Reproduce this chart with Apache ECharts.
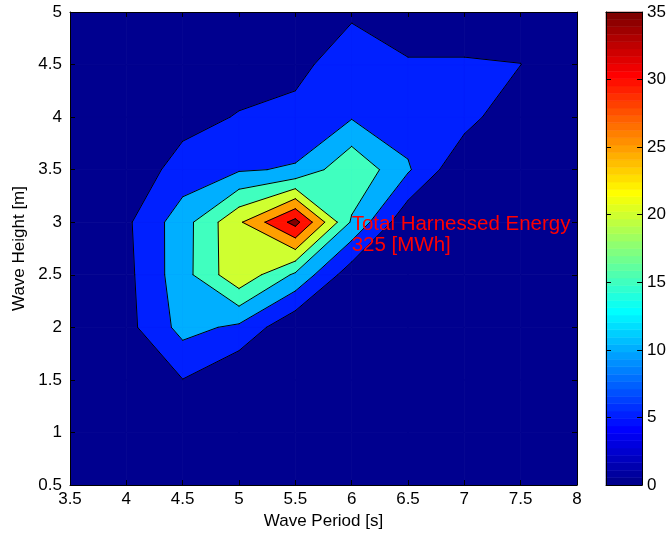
<!DOCTYPE html>
<html>
<head>
<meta charset="utf-8">
<script src="https://cdn.jsdelivr.net/npm/echarts@6/dist/echarts.min.js"></script>
<style>html,body{margin:0;padding:0;background:#fff;}#chart{width:669px;height:539px;}</style>
</head>
<body>
<div id="chart"></div>
<script>
// ---- data ----
const periods = [3.5, 4, 4.5, 5, 5.5, 6, 6.5, 7, 7.5, 8];          // Wave Period [s]
const heights = [0.5, 1, 1.5, 2, 2.5, 3, 3.5, 4, 4.5, 5];          // Wave Height [m]
// harnessed energy per sea state, one array per wave height (columns follow periods)
const energyH0_5 = [0, 0, 0,    0,     0,     0,    0,    0,    0,    0];
const energyH1_0 = [0, 0, 0,    0,     0,     0,    0,    0,    0,    0];
const energyH1_5 = [0, 0, 4.9,  0,     0,     0,    0,    0,    0,    0];
const energyH2_0 = [0, 3.33, 11.67, 9, 0.8,   0,    0,    0,    0,    0];
const energyH2_5 = [0, 3.6, 13,  23.9,  14.1,  2,    0,    0,    0,    0];
const energyH3_0 = [0, 4.1, 12.8, 24.25, 36.75, 14.3, 1,    0,    0,    0];
const energyH3_5 = [0, 1.7, 7,   9.5,   10.5,  19.3, 10.6, 0.6,  0,    0];
const energyH4_0 = [0, 0,   3.3, 5.32,  6.5,   9.6,  7.6,  7.07, 0.6,  0];
const energyH4_5 = [0, 0,   0,   2.65,  3.5,   8,    5.33, 5.33, 5.05, 0.5];
const energyH5_0 = [0, 0,   0,   0,     1.5,   4.2,  3,    3,    3,    1];
const contourLevels = [0, 5, 10, 15, 20, 25, 30, 35];
const colorbarRange = [0, 35];
const annotationLines = ['Total Harnessed Energy', '325 [MWh]'];
const annotationAt = [6, 3];

const grid = [energyH0_5, energyH1_0, energyH1_5, energyH2_0, energyH2_5,
              energyH3_0, energyH3_5, energyH4_0, energyH4_5, energyH5_0];

// ---- jet(64) colormap ----
function jet64() {
  const m = [];
  for (let n = 1; n <= 64; n++) {
    let r, g, b;
    if (n <= 8) { r = 0; g = 0; b = 0.5 + 0.0625 * n; }
    else if (n <= 24) { r = 0; g = 0.0625 * (n - 8); b = 1; }
    else if (n <= 40) { r = 0.0625 * (n - 24); g = 1; b = 1 - 0.0625 * (n - 24); }
    else if (n <= 56) { r = 1; g = 1 - 0.0625 * (n - 40); b = 0; }
    else { r = 1 - 0.0625 * (n - 56); g = 0; b = 0; }
    m.push('rgb(' + Math.round(r * 255) + ',' + Math.round(g * 255) + ',' + Math.round(b * 255) + ')');
  }
  return m;
}
const JET = jet64();
function levelColor(L) {
  const k = Math.min(63, Math.floor((L - colorbarRange[0]) / (colorbarRange[1] - colorbarRange[0]) * 64));
  return JET[Math.max(0, k)];
}

// ---- marching squares ----
const fillPolys = [];
const contourSegs = [];
function corner(i, j) { return { x: periods[i], y: heights[j], v: grid[j][i] }; }
function cross(a, b, L) {
  const t = (L - a.v) / (b.v - a.v);
  return [a.x + t * (b.x - a.x), a.y + t * (b.y - a.y)];
}
contourLevels.forEach(L => {
  const color = levelColor(L);
  for (let j = 0; j < heights.length - 1; j++) {
    for (let i = 0; i < periods.length - 1; i++) {
      const c = [corner(i, j), corner(i + 1, j), corner(i + 1, j + 1), corner(i, j + 1)];
      const hi = c.map(p => p.v >= L);
      const cnt = hi.filter(Boolean).length;
      if (cnt === 0) continue;
      const center = (c[0].v + c[1].v + c[2].v + c[3].v) / 4;
      const saddle = cnt === 2 && hi[0] === hi[2] && hi[1] === hi[3];
      const edge = k => cross(c[k % 4], c[(k + 1) % 4], L);
      if (saddle && center < L) {
        for (let k = 0; k < 4; k++) if (hi[k]) {
          fillPolys.push({ pts: [edge(k + 3), [c[k].x, c[k].y], edge(k)], color });
        }
      } else {
        const pts = [];
        for (let k = 0; k < 4; k++) {
          if (hi[k]) pts.push([c[k].x, c[k].y]);
          if (hi[k] !== hi[(k + 1) % 4]) pts.push(edge(k));
        }
        fillPolys.push({ pts, color });
      }
      if (L > contourLevels[0] && cnt < 4) {
        if (saddle) {
          const wantHigh = center < L;
          for (let k = 0; k < 4; k++) if (hi[k] === wantHigh) contourSegs.push([edge(k + 3), edge(k)]);
        } else {
          const cs = [];
          for (let k = 0; k < 4; k++) if (hi[k] !== hi[(k + 1) % 4]) cs.push(edge(k));
          if (cs.length === 2) contourSegs.push(cs);
        }
      }
    }
  }
});

// colorbar cells
const cbCells = JET.map((col, k) => ({
  lo: colorbarRange[0] + k * (colorbarRange[1] - colorbarRange[0]) / 64,
  hi: colorbarRange[0] + (k + 1) * (colorbarRange[1] - colorbarRange[0]) / 64,
  color: col
}));

const FONT = 'Liberation Sans, Arial, Helvetica, sans-serif';
const chart = echarts.init(document.getElementById('chart'), null, { renderer: 'canvas' });
const axisCommon = {
  type: 'value', z: 10,
  axisLine: { show: true, onZero: false, lineStyle: { color: '#000', width: 1 } },
  axisTick: { show: true, inside: true, length: 5, lineStyle: { color: '#000', width: 1 } },
  splitLine: { show: false },
  axisLabel: { color: '#000', fontFamily: FONT, fontSize: 17 }
};
chart.setOption({
  animation: false,
  backgroundColor: '#fff',
  grid: [
    { left: 70, top: 12, width: 507, height: 473 },
    { left: 606, top: 12, width: 38, height: 473 }
  ],
  xAxis: [
    Object.assign({}, axisCommon, { gridIndex: 0, position: 'bottom', min: 3.5, max: 8, interval: 0.5,
      axisLabel: Object.assign({}, axisCommon.axisLabel, { margin: 6 }),
      name: 'Wave Period [s]', nameLocation: 'middle', nameGap: 27,
      nameTextStyle: { color: '#000', fontFamily: FONT, fontSize: 17 } }),
    Object.assign({}, axisCommon, { gridIndex: 0, position: 'top', min: 3.5, max: 8, interval: 0.5,
      axisLabel: { show: false } }),
    Object.assign({}, axisCommon, { gridIndex: 1, position: 'bottom', min: 0, max: 1,
      axisTick: { show: false }, axisLabel: { show: false } }),
    Object.assign({}, axisCommon, { gridIndex: 1, position: 'top', min: 0, max: 1,
      axisTick: { show: false }, axisLabel: { show: false } })
  ],
  yAxis: [
    Object.assign({}, axisCommon, { gridIndex: 0, position: 'left', min: 0.5, max: 5, interval: 0.5,
      name: 'Wave Height [m]', nameLocation: 'middle', nameGap: 42, nameRotate: 90,
      nameTextStyle: { color: '#000', fontFamily: FONT, fontSize: 17 } }),
    Object.assign({}, axisCommon, { gridIndex: 0, position: 'right', min: 0.5, max: 5, interval: 0.5,
      axisLabel: { show: false } }),
    Object.assign({}, axisCommon, { gridIndex: 1, position: 'left', min: 0, max: 35, interval: 5,
      axisLabel: { show: false } }),
    Object.assign({}, axisCommon, { gridIndex: 1, position: 'right', min: 0, max: 35, interval: 5,
      axisLabel: Object.assign({}, axisCommon.axisLabel, { margin: 5 }) })
  ],
  series: [
    {
      type: 'custom', xAxisIndex: 0, yAxisIndex: 0, silent: true, z: 1, clip: true,
      data: fillPolys.map(p => [p.pts[0][0], p.pts[0][1]]),
      renderItem: (params, api) => {
        const p = fillPolys[params.dataIndex];
        return { type: 'polygon', shape: { points: p.pts.map(q => api.coord(q)) },
          style: { fill: p.color, stroke: p.color, lineWidth: 0.8 } };
      }
    },
    {
      type: 'custom', xAxisIndex: 0, yAxisIndex: 0, silent: true, z: 2, clip: true,
      data: contourSegs.map(s => [s[0][0], s[0][1]]),
      renderItem: (params, api) => {
        const s = contourSegs[params.dataIndex];
        return { type: 'line', shape: { x1: api.coord(s[0])[0], y1: api.coord(s[0])[1],
            x2: api.coord(s[1])[0], y2: api.coord(s[1])[1] },
          style: { stroke: '#000', lineWidth: 1, lineCap: 'round' } };
      }
    },
    {
      type: 'custom', xAxisIndex: 0, yAxisIndex: 0, silent: true, z: 5,
      data: [annotationAt],
      renderItem: (params, api) => {
        const p = api.coord(annotationAt);
        return { type: 'text', style: { text: annotationLines.join('\n'), x: p[0], y: p[1] + 13,
          fill: '#ff0000', fontFamily: FONT, fontSize: 20.5, lineHeight: 21,
          align: 'left', verticalAlign: 'middle', textAlign: 'left', textVerticalAlign: 'middle' } };
      }
    },
    {
      type: 'custom', xAxisIndex: 2, yAxisIndex: 2, silent: true, z: 1,
      data: cbCells.map(c => [0, c.lo]),
      renderItem: (params, api) => {
        const c = cbCells[params.dataIndex];
        const a = api.coord([0, c.lo]);
        const b = api.coord([1, c.hi]);
        return { type: 'rect', shape: { x: a[0], y: b[1], width: b[0] - a[0], height: a[1] - b[1] },
          style: { fill: c.color, stroke: c.color, lineWidth: 0.6 } };
      }
    }
  ]
});
</script>
</body>
</html>
